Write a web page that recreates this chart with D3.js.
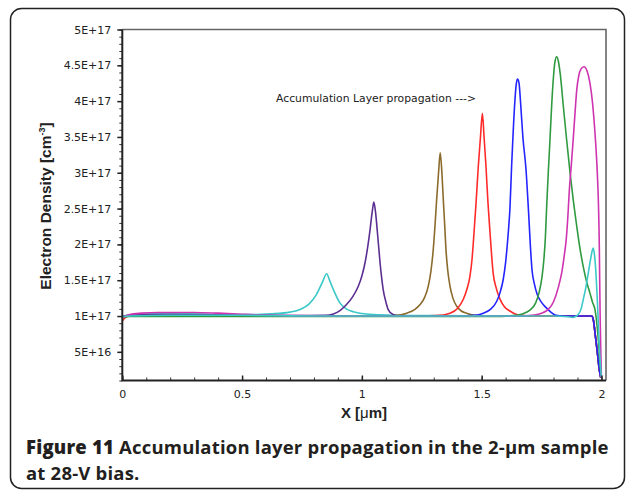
<!DOCTYPE html>
<html><head><meta charset="utf-8">
<script src="https://cdn.jsdelivr.net/npm/d3@7"></script>
<style>
html,body{margin:0;padding:0;background:#fff;}
svg{display:block;}
</style></head>
<body>
<svg id="chart" width="627" height="494"></svg>
<script>
// ---- Data (Electron density in units of 1E17 cm^-3, X in µm) ----
const xTickValues = [0, 0.5, 1, 1.5, 2];
const xTickLabels = ["0", "0.5", "1", "1.5", "2"];
const yTickValues = [0.5, 1, 1.5, 2, 2.5, 3, 3.5, 4, 4.5, 5];
const yTickLabels = ["5E+16", "1E+17", "1.5E+17", "2E+17", "2.5E+17", "3E+17", "3.5E+17", "4E+17", "4.5E+17", "5E+17"];

const anodeDrop = [[1.959,1.0],[1.966,0.95],[1.973,0.77],[1.983,0.49],[1.991,0.25],[1.997,0.14]];

const cyanA = [[0,0.99],[0.02,1.01],[0.06,1.025],[0.15,1.035],[0.3,1.03],[0.45,1.02],[0.55,1.02],[0.62,1.03],[0.7,1.055],[0.742,1.09],[0.78,1.17],[0.81,1.3],[0.835,1.47],[0.853,1.59],[0.866,1.49],[0.881,1.37],[0.909,1.18],[0.935,1.1],[0.964,1.06],[1.0,1.035],[1.05,1.02],[1.15,1.01],[1.3,1.005],[1.6,1.0],[1.95,1.0]];
const purple = [[0,0.99],[0.03,1.01],[0.15,1.02],[0.4,1.015],[0.7,1.005],[0.85,1.01],[0.881,1.03],[0.91,1.08],[0.936,1.16],[0.962,1.27],[0.985,1.415],[1.0,1.56],[1.013,1.74],[1.025,1.98],[1.034,2.2],[1.043,2.45],[1.05,2.59],[1.057,2.45],[1.064,2.2],[1.07,1.97],[1.076,1.74],[1.082,1.55],[1.089,1.37],[1.1,1.2],[1.11,1.09],[1.13,1.02],[1.16,1.0],[1.95,1.0]];
const brown = [[0,0.99],[0.03,1.0],[1.1,1.0],[1.15,1.01],[1.187,1.04],[1.22,1.09],[1.243,1.16],[1.262,1.26],[1.277,1.415],[1.288,1.62],[1.298,1.93],[1.305,2.25],[1.312,2.62],[1.32,3.0],[1.327,3.28],[1.334,3.0],[1.34,2.62],[1.346,2.25],[1.351,1.93],[1.358,1.65],[1.368,1.415],[1.38,1.25],[1.396,1.136],[1.415,1.07],[1.437,1.04],[1.47,1.01],[1.5,1.0],[1.95,1.0]];
const red = [[0,0.93],[0.01,0.97],[0.03,1.0],[1.25,1.0],[1.31,1.005],[1.368,1.04],[1.4,1.11],[1.423,1.23],[1.438,1.37],[1.451,1.554],[1.46,1.8],[1.468,2.16],[1.477,2.6],[1.486,3.09],[1.495,3.5],[1.503,3.83],[1.51,3.5],[1.518,3.09],[1.526,2.6],[1.535,2.16],[1.542,1.83],[1.548,1.6],[1.56,1.4],[1.576,1.24],[1.595,1.13],[1.618,1.07],[1.64,1.03],[1.67,1.01],[1.7,1.0],[1.95,1.0]];
const blue = [[0,0.99],[0.03,1.0],[1.4,1.0],[1.47,1.01],[1.507,1.04],[1.535,1.09],[1.563,1.206],[1.576,1.32],[1.59,1.51],[1.6,1.75],[1.611,2.16],[1.618,2.5],[1.625,3.09],[1.632,3.6],[1.639,4.02],[1.645,4.25],[1.65,4.31],[1.656,4.25],[1.663,3.95],[1.672,3.5],[1.685,3.05],[1.695,2.5],[1.703,2.0],[1.71,1.65],[1.72,1.45],[1.732,1.3],[1.75,1.19],[1.771,1.11],[1.79,1.05],[1.81,1.01],[1.84,1.0],[1.95,1.0]];
const green = [[0,0.985],[0.03,0.995],[1.55,0.995],[1.63,1.005],[1.67,1.03],[1.70,1.08],[1.725,1.18],[1.74,1.33],[1.752,1.55],[1.76,1.8],[1.766,2.1],[1.771,2.5],[1.778,3.0],[1.785,3.45],[1.792,3.925],[1.8,4.35],[1.806,4.55],[1.813,4.62],[1.82,4.56],[1.828,4.38],[1.841,3.925],[1.855,3.45],[1.869,3.0],[1.883,2.6],[1.897,2.25],[1.91,1.95],[1.924,1.69],[1.938,1.48],[1.952,1.32],[1.963,1.19],[1.973,1.09],[1.985,0.75],[1.995,0.3],[2.0,0.14]];
const magenta = [[0,0.98],[0.03,1.02],[0.08,1.04],[0.15,1.05],[0.3,1.05],[0.4,1.04],[0.5,1.025],[0.6,1.012],[0.7,1.005],[0.9,1.0],[1.65,1.0],[1.72,1.015],[1.75,1.04],[1.78,1.1],[1.8,1.2],[1.82,1.4],[1.835,1.62],[1.845,1.85],[1.853,2.07],[1.86,2.4],[1.866,2.76],[1.874,3.1],[1.882,3.46],[1.89,3.85],[1.897,4.16],[1.905,4.35],[1.915,4.45],[1.927,4.48],[1.94,4.42],[1.952,4.25],[1.962,4.0],[1.971,3.65],[1.978,3.3],[1.984,2.9],[1.988,2.5],[1.991,2.0],[1.993,1.4],[1.995,0.9],[1.998,0.4],[2.0,0.14]];
const cyanB = [[0,0.99],[0.03,1.0],[0.2,1.01],[0.5,1.01],[0.8,1.0],[1.8,1.0],[1.86,0.99],[1.88,0.98],[1.895,1.0],[1.903,1.02],[1.915,1.1],[1.924,1.23],[1.935,1.4],[1.945,1.6],[1.955,1.8],[1.962,1.92],[1.966,1.95],[1.971,1.85],[1.977,1.6],[1.981,1.35],[1.984,1.14],[1.988,0.8],[1.995,0.35],[2.0,0.15]];

const seriesList = [cyanA.concat(anodeDrop), purple.concat(anodeDrop), brown.concat(anodeDrop), red.concat(anodeDrop), blue.concat(anodeDrop), green, magenta, cyanB];
const seriesColors = ["#3cc8c8", "#5b2f92", "#8a6b2c", "#ff2b2b", "#2424ff", "#2f9a40", "#cf34b0", "#3cc8c8"];

// ---- Layout ----
const svg = d3.select("#chart");
const L = 122.3, R = 606, T = 29.5, B = 380.5;
const x = d3.scaleLinear().domain([0, 2.019]).range([L, R]);
const y = d3.scaleLinear().domain([0.1, 5]).range([B, T]);

// outer rounded frame
svg.append("rect").attr("x", 10.5).attr("y", 8.5).attr("width", 614).attr("height", 480)
  .attr("rx", 11).attr("fill", "none").attr("stroke", "#222").attr("stroke-width", 1.5);

// plot border (top, right)
svg.append("path").attr("d", `M${L},${T}H${R}V${B}`).attr("fill", "none")
  .attr("stroke", "#666").attr("stroke-width", 1.6);

// clip
svg.append("clipPath").attr("id", "clip").append("rect")
  .attr("x", L).attr("y", T).attr("width", R - L).attr("height", B - T);

const line = d3.line().x(d => x(d[0])).y(d => y(d[1])).curve(d3.curveMonotoneX);
const g = svg.append("g").attr("clip-path", "url(#clip)");
seriesList.forEach((s, i) => {
  g.append("path").attr("d", line(s)).attr("fill", "none")
    .attr("stroke", seriesColors[i]).attr("stroke-width", 1.6).attr("stroke-linejoin", "round");
});

const tickFont = "DejaVu Sans, sans-serif";

// Y axis minor ticks
const yMinor = d3.range(1, 51).map(v => v / 10);
svg.append("g").attr("transform", `translate(${L},0)`)
  .call(d3.axisLeft(y).tickValues(yMinor).tickSize(3).tickFormat(""))
  .call(a => a.select(".domain").remove())
  .selectAll("line").attr("stroke", "#333");
// Y axis major
const yAx = svg.append("g").attr("transform", `translate(${L},0)`)
  .call(d3.axisLeft(y).tickValues(yTickValues).tickSize(5).tickPadding(6)
    .tickFormat((d, i) => yTickLabels[i]));
yAx.select(".domain").remove();
yAx.selectAll("line").attr("stroke", "#222").attr("stroke-width", 1.5);
yAx.selectAll("text").attr("font-family", tickFont).attr("font-size", 11).attr("fill", "#222");

// X axis minor
const xMinor = d3.range(0, 21).map(v => v / 10);
svg.append("g").attr("transform", `translate(0,${B})`)
  .call(d3.axisBottom(x).tickValues(xMinor).tickSizeInner(-3).tickSizeOuter(0).tickFormat(""))
  .call(a => a.select(".domain").remove())
  .selectAll("line").attr("stroke", "#333");
const xAx = svg.append("g").attr("transform", `translate(0,${B})`)
  .call(d3.axisBottom(x).tickValues(xTickValues).tickSizeInner(-5).tickSizeOuter(0).tickPadding(10)
    .tickFormat((d, i) => xTickLabels[i]));
xAx.select(".domain").remove();
xAx.selectAll("line").attr("stroke", "#222").attr("stroke-width", 1.5);
xAx.selectAll("text").attr("font-family", tickFont).attr("font-size", 11).attr("fill", "#222");

// axis lines (left, bottom)
svg.append("path").attr("d", `M${L},${T}V${B}H${R}`).attr("fill", "none")
  .attr("stroke", "#222").attr("stroke-width", 2);

// axis titles
const xt = svg.append("text").attr("x", 364).attr("y", 418).attr("text-anchor", "middle")
  .attr("font-family", "Liberation Sans, Arial, sans-serif").attr("font-size", 15).attr("font-weight", "bold").attr("fill", "#222");
xt.append("tspan").text("X [");
xt.append("tspan").attr("font-weight", "normal").text("\u03bc");
xt.append("tspan").text("m]");

const yt = svg.append("text").attr("transform", "translate(51,206) rotate(-90)").attr("text-anchor", "middle")
  .attr("font-family", "Liberation Sans, Arial, sans-serif").attr("font-size", 15.5).attr("font-weight", "bold").attr("fill", "#222");
yt.append("tspan").text("Electron Density [cm");
yt.append("tspan").attr("font-size", 9).attr("dy", -6).text("-3");
yt.append("tspan").attr("dy", 6).text("]");

// annotation
svg.append("text").attr("x", 276).attr("y", 102)
  .attr("font-family", tickFont).attr("font-size", 10.8).attr("fill", "#222")
  .text("Accumulation Layer propagation --->");

// caption
const capFont = "Open Sans, sans-serif";
const c1 = svg.append("text").attr("x", 26).attr("y", 454).attr("font-family", capFont)
  .attr("font-size", 18.5).attr("letter-spacing", 0.2).attr("fill", "#231f20");
c1.append("tspan").attr("font-weight", 800).text("Figure 11 ");
c1.append("tspan").attr("font-weight", 700).text("Accumulation layer propagation in the 2-\u03bcm sample");
svg.append("text").attr("x", 26).attr("y", 480).attr("font-family", capFont)
  .attr("font-size", 18.5).attr("letter-spacing", 0.2).attr("font-weight", 700).attr("fill", "#231f20")
  .text("at 28-V bias.");
</script>
</body></html>
